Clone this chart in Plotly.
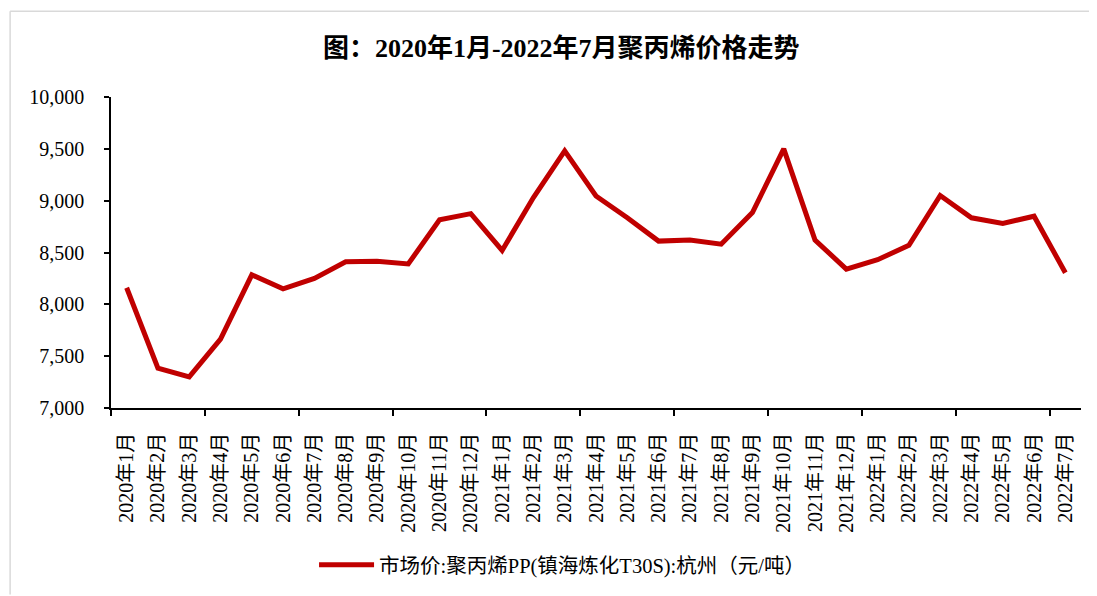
import plotly.graph_objects as go

# 月份标签
months = ["2020年%d月" % m for m in range(1, 13)] + \
         ["2021年%d月" % m for m in range(1, 13)] + \
         ["2022年%d月" % m for m in range(1, 8)]

# 市场价:聚丙烯PP(镇海炼化T30S):杭州（元/吨）
pp_price = [8160, 7385, 7300, 7665, 8285, 8150, 8250, 8410, 8415, 8390,
            8815, 8875, 8520, 9030, 9480, 9045, 8835, 8610, 8620, 8580,
            8885, 9500, 8620, 8340, 8430, 8570, 9050, 8835, 8780, 8850,
            8305]

series_name = "市场价:聚丙烯PP(镇海炼化T30S):杭州（元/吨）"
title_text = "图：2020年1月-2022年7月聚丙烯价格走势"

FONT = "Liberation Serif, Times New Roman, Noto Sans CJK SC, serif"

x_idx = list(range(len(months)))

fig = go.Figure()
fig.add_trace(go.Scatter(
    x=x_idx, y=pp_price, mode="lines", name=series_name,
    line=dict(color="#C00000", width=5),
))

# boundary ticks every 3 months
bound_ticks = [i - 0.5 for i in range(0, len(months), 3)]

# light frame (top and left edges only)
frame = dict(color="#d9d9d9", width=1.5)

fig.update_layout(
    width=1089, height=588,
    margin=dict(l=103, r=16, t=89, b=187),
    paper_bgcolor="white", plot_bgcolor="white",
    font=dict(family=FONT, size=20, color="black"),
    title=dict(text="<b>" + title_text + "</b>", x=0.508, y=0.932,
               xanchor="center", yanchor="middle",
               font=dict(family=FONT, size=26, color="black")),
    showlegend=True,
    legend=dict(orientation="h", x=0.465, y=-0.5, xanchor="center",
                yanchor="middle", font=dict(size=20.5), itemwidth=55),
    xaxis=dict(
        range=[-0.5, len(months) - 0.5],
        tickmode="array", tickvals=x_idx, ticktext=months,
        tickangle=-90, ticks="", showgrid=False, zeroline=False,
        showline=True, linecolor="black", linewidth=1.5,
        ticklabelstandoff=15,
        minor=dict(tickmode="array", tickvals=bound_ticks, ticks="outside",
                   ticklen=6, tickwidth=1.5, tickcolor="black", showgrid=False),
    ),
    yaxis=dict(
        range=[7000, 10000], tickmode="linear", tick0=7000, dtick=500,
        tickformat=",", ticks="outside", ticklen=5, tickwidth=1.5,
        tickcolor="black", showgrid=False, zeroline=False,
        showline=True, linecolor="black", linewidth=1.5,
        ticklabelstandoff=16,
    ),
    shapes=[
        dict(type="line", xref="paper", yref="paper",
             x0=-0.104, x1=1.03, y0=1.276, y1=1.276, line=frame, layer="below"),
        dict(type="line", xref="paper", yref="paper",
             x0=-0.104, x1=-0.104, y0=-0.6, y1=1.276, line=frame, layer="below"),
    ],
)

fig.write_html("out.html", config={"displayModeBar": False})
